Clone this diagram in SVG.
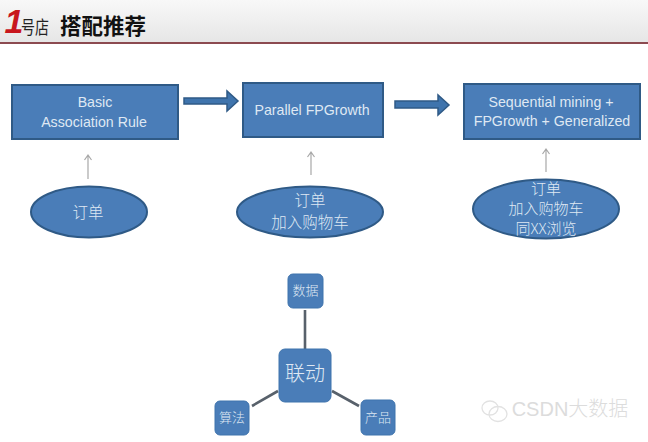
<svg xmlns="http://www.w3.org/2000/svg" width="648" height="442" viewBox="0 0 648 442">
<style>
text{font-family:"Liberation Sans","Noto Sans CJK SC",sans-serif;text-anchor:middle;fill:#dfe8f3}
.cjk{font-family:"Noto Sans CJK SC",sans-serif;font-weight:300}
.b{fill:#4a7db8;stroke:#2f5a86;stroke-width:2}
.s{fill:#4a7db8;stroke:#3f74ad;stroke-width:1}
.t{font-size:14.200px}
.c{font-size:15.500px}
.d{font-size:15px}
.m{font-size:13px}
.a{fill:#3f74ad;stroke:#2f5a86;stroke-width:1.500}
.g{stroke:#a8a8a8;stroke-width:1.200;fill:none}
.l{stroke:#58616b;stroke-width:2.600}
</style>
<defs><linearGradient id="h" x1="0" y1="0" x2="0" y2="1"><stop offset="0" stop-color="#f8f8f8"/><stop offset="1" stop-color="#e6e6e6"/></linearGradient></defs>
<rect width="648" height="442" fill="#fff"/>
<g id="header">
<rect x="0" y="0" width="648" height="42" fill="url(#h)"/>
<rect x="0" y="42" width="648" height="2" fill="#8c4a50"/>
<text x="14" y="33" style="font-family:'Liberation Sans';font-size:34px;font-weight:bold;font-style:italic;fill:#c8161d">1</text>
<text transform="translate(35 34) scale(1 1.300)" style="font-family:'Noto Sans CJK SC';font-size:14px;font-weight:400;fill:#222">号店</text>
<text x="103" y="34" style="font-family:'Noto Sans CJK SC';font-size:21.500px;font-weight:700;fill:#111">搭配推荐</text>
</g>
<g id="connectors">
<path class="a" d="M184 98H227V91L238 101 227 111V104H184Z"/>
<path class="a" d="M395 101H438V95L449 105 438 115V108H395Z"/>
<path class="g" d="M88 179V155M84.500 160L88 155 91.500 160"/>
<path class="g" d="M311 175V152M307.500 157L311 152 314.500 157"/>
<path class="g" d="M546 172V149M542.500 154L546 149 549.500 154" stroke-width="1.500"/>
<path class="l" d="M305 310V349M252 406L278 391M332 391L359 406"/>
</g>
<g id="basic"><rect class="b" x="12" y="85" width="166" height="54"/><text class="t" x="95" y="107">Basic</text><text class="t" x="94" y="127">Association Rule</text></g>
<g id="parallel"><rect class="b" x="243" y="83" width="140" height="54"/><text class="t" x="312" y="115">Parallel FPGrowth</text></g>
<g id="sequential"><rect class="b" x="464" y="84" width="176" height="55"/><text class="t" x="551" y="107">Sequential mining +</text><text class="t" x="552" y="126">FPGrowth + Generalized</text></g>
<g id="e1"><ellipse class="b" cx="89" cy="212" rx="58" ry="25.500"/><text class="c cjk" x="88" y="218">订单</text></g>
<g id="e2"><ellipse class="b" cx="310" cy="212" rx="73" ry="25.500"/><text class="c cjk" x="310" y="206">订单</text><text class="c cjk" x="310" y="228">加入购物车</text></g>
<g id="e3"><ellipse class="b" cx="546" cy="209" rx="73" ry="29.500"/><text class="d cjk" x="546" y="194">订单</text><text class="d cjk" x="546" y="214">加入购物车</text><text class="d cjk" x="546" y="234">同XX浏览</text></g>
<g id="linkage"><rect class="s" x="279" y="349" width="52" height="53" rx="6"/><text class="cjk" x="305" y="381" font-size="20">联动</text></g>
<g id="data"><rect class="s" x="288" y="274" width="35" height="34" rx="5"/><text class="cjk m" x="305.500" y="295">数据</text></g>
<g id="algo"><rect class="s" x="215" y="401" width="34" height="34" rx="5"/><text class="cjk m" x="232" y="422">算法</text></g>
<g id="product"><rect class="s" x="361" y="400" width="34" height="35" rx="5"/><text class="cjk m" x="378" y="422">产品</text></g>
<g id="watermark">
<g fill="none" stroke="#e2e2e2" stroke-width="1.300"><ellipse cx="490" cy="408" rx="8" ry="7"/><ellipse cx="498" cy="414" rx="9" ry="7.500"/></g>
<text x="570" y="416" style="font-family:'Liberation Sans','Noto Sans CJK SC',sans-serif;font-size:20px;font-weight:300;fill:#dcdcdc">CSDN大数据</text>
</g>
</svg>
